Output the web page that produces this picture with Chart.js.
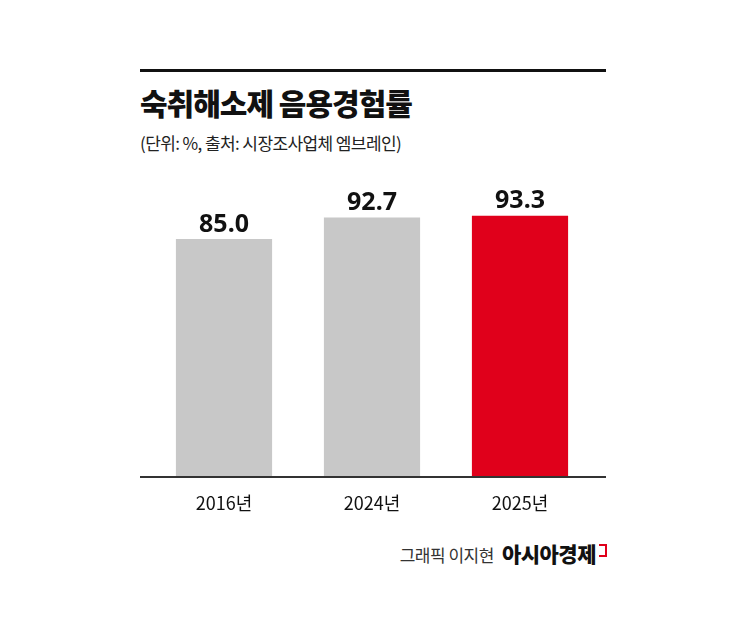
<!DOCTYPE html>
<html>
<head>
<meta charset="utf-8">
<style>
  body{margin:0;background:#fff;font-family:"Noto Sans CJK KR","Noto Sans",sans-serif;}
  #wrap{position:relative;width:745px;height:638px;}
  #rule{position:absolute;left:140px;top:69px;width:466px;height:3px;background:#111;}
  #title{position:absolute;left:140px;top:80px;font-size:30px;font-weight:900;color:#111;letter-spacing:-1px;}
  #sub{position:absolute;left:140px;top:130px;font-size:17px;color:#222;letter-spacing:-0.6px;}
  #chartBox{position:absolute;left:140px;top:157px;width:466px;height:365px;}
  #axis{position:absolute;left:140px;top:476px;width:466px;height:2px;background:#333;}
  #credit{position:absolute;right:138px;top:538px;font-size:17px;color:#333;letter-spacing:-0.5px;}
  #credit b{font-size:21px;font-weight:900;color:#111;margin-left:8px;}
  #credit i{display:inline-block;width:6px;height:9px;border:2px solid #e0001b;border-left:none;margin-left:3px;vertical-align:top;margin-top:6px;}
</style>
</head>
<body>
<div id="wrap">
  <div id="rule"></div>
  <div id="title">숙취해소제 음용경험률</div>
  <div id="sub">(단위: %, 출처: 시장조사업체 엠브레인)</div>
  <div id="chartBox"><canvas id="canvas"></canvas></div>
  <div id="axis"></div>
  <div id="credit">그래픽 이지현<b>아시아경제</b><i></i></div>
</div>
<script src="https://cdn.jsdelivr.net/npm/chart.js"></script>
<script>
  var years = ['2016년', '2024년', '2025년'];
  var values = [85.0, 92.7, 93.3];
  var barColors = ['#c8c8c8', '#c8c8c8', '#e0001b'];

  var valueLabels = {
    id: 'valueLabels',
    afterDatasetsDraw: function(chart) {
      var ctx = chart.ctx;
      var meta = chart.getDatasetMeta(0);
      ctx.save();
      ctx.font = 'bold 25px "Noto Sans", sans-serif';
      ctx.fillStyle = '#111';
      ctx.textAlign = 'center';
      ctx.textBaseline = 'bottom';
      meta.data.forEach(function(bar, i) {
        ctx.fillText(values[i].toFixed(1), bar.x, bar.y - 2);
      });
      ctx.restore();
    }
  };

  window.onload = function() {
    var ctx = document.getElementById('canvas').getContext('2d');
    new Chart(ctx, {
      type: 'bar',
      data: {
        labels: years,
        datasets: [{
          data: values,
          backgroundColor: barColors,
          barPercentage: 0.65,
          categoryPercentage: 1
        }]
      },
      options: {
        responsive: true,
        maintainAspectRatio: false,
        animation: false,
        layout: {padding: {top: 40, left: 10, right: 12}},
        plugins: {legend: {display: false}, tooltip: {enabled: false}},
        scales: {
          x: {
            grid: {display: false},
            border: {display: false},
            ticks: {color: '#111', font: {size: 18, family: '"Noto Sans CJK KR", sans-serif'}, padding: 8}
          },
          y: {display: false, min: 0, max: 100}
        }
      },
      plugins: [valueLabels]
    });
  };
</script>
</body>
</html>
